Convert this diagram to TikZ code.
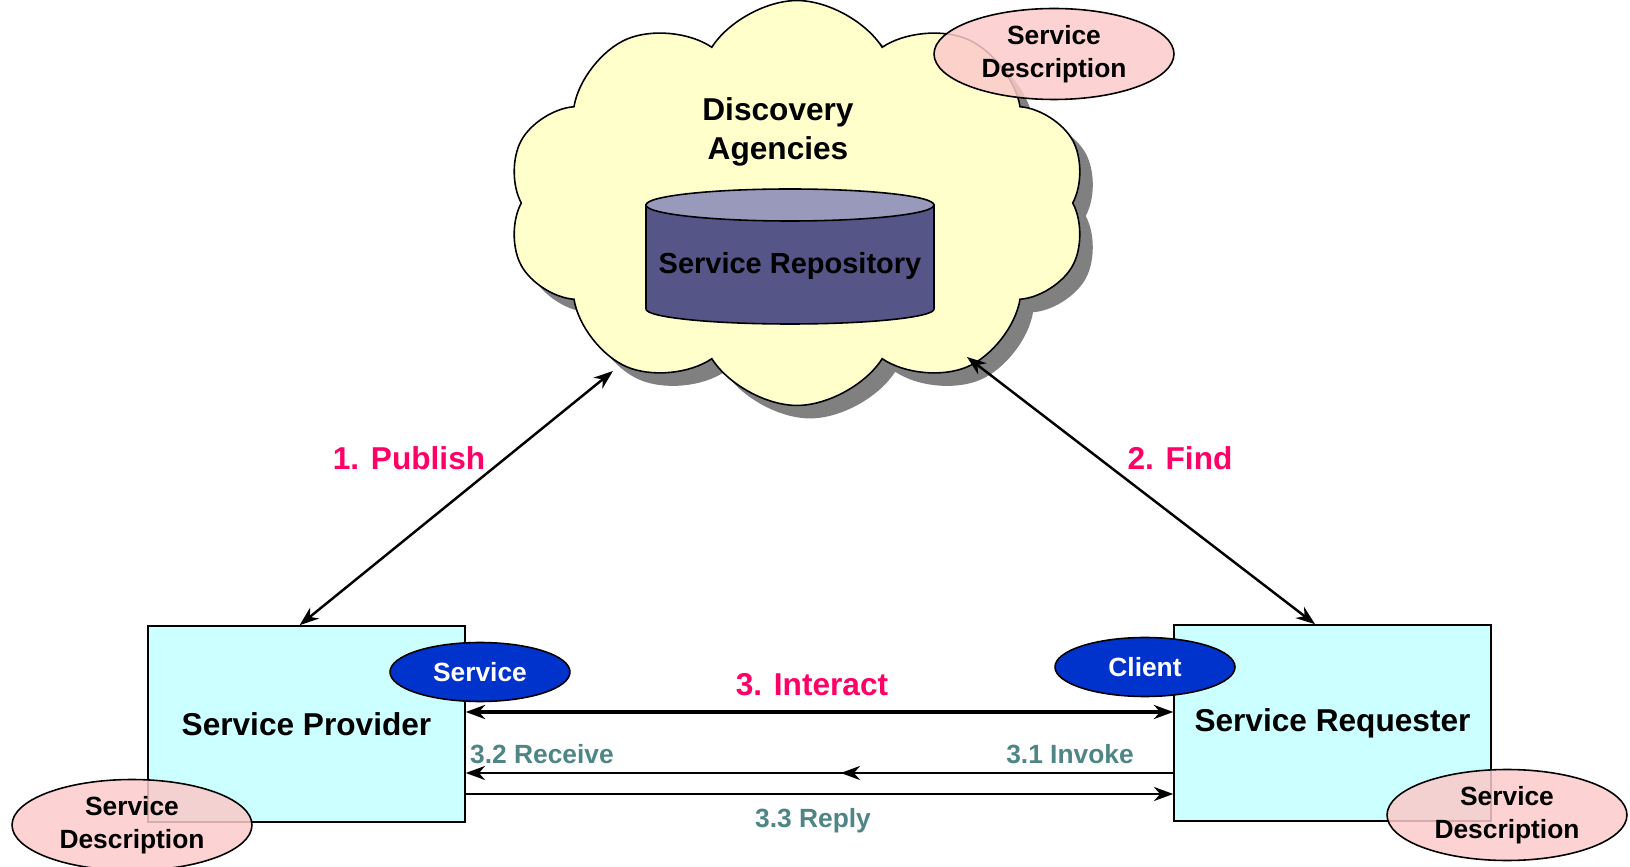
\documentclass[tikz,border=0pt]{standalone}
\usepackage{fontspec}
\setmainfont{Liberation Sans}
\usetikzlibrary{shapes.symbols,shapes.geometric,shadows,arrows.meta,decorations.markings}

\definecolor{cloudyellow}{HTML}{FFFFCC}
\definecolor{boxcyan}{HTML}{CCFFFF}
\definecolor{sdpink}{HTML}{FCCACA}
\definecolor{endblue}{HTML}{0033CC}
\definecolor{repobody}{HTML}{555588}
\definecolor{repotop}{HTML}{9999BB}
\definecolor{stepred}{HTML}{FF0066}
\definecolor{subteal}{HTML}{4F8585}

\begin{document}
\begin{tikzpicture}[x=0.02cm,y=0.02cm,
    >={Stealth[length=11pt,width=8pt,inset=3.5pt]},
    role/.style={draw, line width=0.9pt, fill=boxcyan, minimum width=6.34cm, minimum height=3.92cm,
      font=\bfseries\fontsize{18}{22}\selectfont},
    sdesc/.style={ellipse, draw, line width=0.9pt, fill=sdpink, fill opacity=0.85, text opacity=1,
      minimum width=4.8cm, minimum height=1.82cm, inner sep=0pt, align=center,
      font=\bfseries\fontsize{15}{18.5}\selectfont},
    endpt/.style={ellipse, draw, line width=0.9pt, fill=endblue, text=white, inner sep=0pt,
      minimum width=3.6cm, minimum height=1.18cm, font=\bfseries\fontsize{15}{18}\selectfont},
    steplbl/.style={text=stepred, font=\bfseries\fontsize{18}{22}\selectfont},
    sublbl/.style={text=subteal, font=\bfseries\fontsize{15}{18}\selectfont},
    link/.style={line width=1.4pt},
  ]
  \useasboundingbox (0,0) rectangle (1630,866);

  % discovery agencies cloud
  \node[cloud, cloud puffs=10, cloud puff arc=115, aspect=1.47, draw, line width=0.9pt,
    fill=cloudyellow, minimum width=11.6cm, minimum height=8.1cm,
    drop shadow={shadow xshift=0.26cm, shadow yshift=-0.26cm, fill=black!50, opacity=1}]
    (agency) at (797,663) {};
  \node[align=center, font=\bfseries\fontsize{18}{22}\selectfont] (agtitle) at (778,734) {Discovery\\Agencies};

  % repository cylinder
  \filldraw[fill=repobody, line width=0.9pt] (646,661) -- (646,557)
    arc[start angle=180, end angle=360, x radius=144, y radius=15] -- (934,661) -- cycle;
  \filldraw[fill=repotop, line width=0.9pt] (790,661) ellipse[x radius=144, y radius=16];
  \node[font=\bfseries\fontsize{16.5}{20}\selectfont] (repo) at (790,600) {Service Repository};

  \node[sdesc] (sdtop) at (1054,812) {Service\\Description};

  % provider and requester
  \node[role] (prov) at (306.5,142) {Service Provider};
  \node[role] (req) at (1332.5,143) {Service Requester};

  \coordinate (pubend) at (613,495);
  \coordinate (findend) at (967,509);
  \draw[link,<->] (prov.94) -- (pubend);
  \draw[link,<->] (req.100) -- (findend);
  \node[steplbl] (publbl) at (409,408) {1. Publish};
  \node[steplbl] (findlbl) at (1180,408) {2. Find};

  % interaction
  \coordinate (ia) at (0,154);
  \coordinate (iv) at (0,93);
  \coordinate (rp) at (0,72);
  \draw[line width=2.2pt,<->] (prov.east |- ia) -- (req.west |- ia);
  \draw[link,->, decoration={markings, mark=at position 0.47 with {\arrow{>}}}, postaction={decorate}]
    (req.west |- iv) -- (prov.east |- iv);
  \draw[link,->] (prov.east |- rp) -- (req.west |- rp);
  \node[steplbl] (ialbl) at (812,181) {3. Interact};
  \node[sublbl] (rcvlbl) at (542,112) {3.2 Receive};
  \node[sublbl] (invlbl) at (1070,112) {3.1 Invoke};
  \node[sublbl] (rpllbl) at (813,45) {3.3 Reply};

  \node[endpt] (svc) at (480,194) {Service};
  \node[endpt] (cli) at (1145,199) {Client};
  \node[sdesc] (sdprov) at (132,41) {Service\\Description};
  \node[sdesc] (sdreq) at (1507,51) {Service\\Description};
\end{tikzpicture}
\end{document}
